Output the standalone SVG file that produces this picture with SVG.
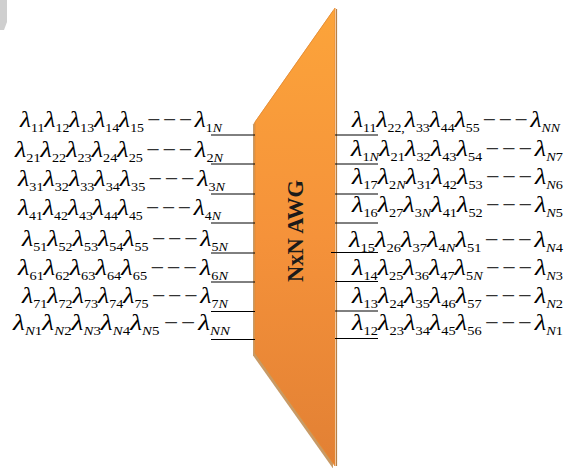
<svg xmlns="http://www.w3.org/2000/svg" width="565" height="468" viewBox="0 0 565 468">
<defs>
<linearGradient id="og" x1="0" y1="0" x2="0" y2="1">
<stop offset="0" stop-color="#FCA43A"/>
<stop offset="0.5" stop-color="#F5923A"/>
<stop offset="1" stop-color="#E28034"/>
</linearGradient>
<filter id="blur" x="-10%" y="-10%" width="120%" height="120%"><feGaussianBlur stdDeviation="0.6"/></filter>
<style>
.row{font-family:"Liberation Serif","Times New Roman",serif;font-size:24px;font-style:italic;fill:#000}
.s{font-size:13px;font-style:normal}
.si{font-size:13px;font-style:italic}
.d{font-style:normal;font-size:22px;letter-spacing:2.5px;fill:#333}
.ln{stroke:#000;stroke-width:1;fill:none}
.title{font-family:"Liberation Serif","Times New Roman",serif;font-size:23px;font-weight:bold;fill:#1a1a1a}
</style>
</defs>
<polygon points="0,0 7,0 7,22 4,30 0,30" fill="#cfcfcf"/>
<g id="awg">
<polygon points="255,122 335,8 335,466 255,353" transform="translate(-2,2.5)" fill="#c89a66" filter="url(#blur)"/>
<line x1="336.5" y1="9" x2="336.5" y2="466" stroke="#b58048" stroke-width="1.2"/>
<polygon points="255,122 335,8 335,466 255,353" fill="url(#og)" stroke="#e88b30" stroke-width="0.8"/>
<text class="title" transform="translate(303,231) rotate(-90)" text-anchor="middle" textLength="102" lengthAdjust="spacingAndGlyphs">NxN AWG</text>
</g>
<g id="connectors">
<line class="ln" x1="211" y1="135" x2="255" y2="135"/>
<line class="ln" x1="211" y1="164" x2="255" y2="164"/>
<line class="ln" x1="211" y1="194" x2="255" y2="194"/>
<line class="ln" x1="211" y1="223" x2="255" y2="223"/>
<line class="ln" x1="211" y1="253" x2="255" y2="253"/>
<line class="ln" x1="211" y1="282" x2="255" y2="282"/>
<line class="ln" x1="211" y1="311.5" x2="255" y2="311.5"/>
<line class="ln" x1="211" y1="339.5" x2="255" y2="339.5"/>
<line class="ln" x1="335" y1="135" x2="378" y2="135"/>
<line class="ln" x1="335" y1="164" x2="378" y2="164"/>
<line class="ln" x1="335" y1="194" x2="378" y2="194"/>
<line class="ln" x1="335" y1="223" x2="378" y2="223"/>
<line class="ln" x1="331" y1="252.5" x2="378" y2="252.5"/>
<line class="ln" x1="335" y1="281.5" x2="378" y2="281.5"/>
<line class="ln" x1="335" y1="311" x2="378" y2="311"/>
<line class="ln" x1="335" y1="338.5" x2="378" y2="338.5"/>
</g>
<g id="inputs">
<text class="row" x="20" y="127" textLength="202" lengthAdjust="spacingAndGlyphs">λ<tspan class="s" dy="4.5">11</tspan><tspan dy="-4.5">λ</tspan><tspan class="s" dy="4.5">12</tspan><tspan dy="-4.5">λ</tspan><tspan class="s" dy="4.5">13</tspan><tspan dy="-4.5">λ</tspan><tspan class="s" dy="4.5">14</tspan><tspan dy="-4.5">λ</tspan><tspan class="s" dy="4.5">15</tspan><tspan class="d" dy="-4.5" dx="3">−−−</tspan>λ<tspan class="s" dy="4.5">1</tspan><tspan class="si">N</tspan></text>
<text class="row" x="15" y="157" textLength="208" lengthAdjust="spacingAndGlyphs">λ<tspan class="s" dy="4.5">21</tspan><tspan dy="-4.5">λ</tspan><tspan class="s" dy="4.5">22</tspan><tspan dy="-4.5">λ</tspan><tspan class="s" dy="4.5">23</tspan><tspan dy="-4.5">λ</tspan><tspan class="s" dy="4.5">24</tspan><tspan dy="-4.5">λ</tspan><tspan class="s" dy="4.5">25</tspan><tspan class="d" dy="-4.5" dx="3">−−−</tspan>λ<tspan class="s" dy="4.5">2</tspan><tspan class="si">N</tspan></text>
<text class="row" x="18" y="186" textLength="207" lengthAdjust="spacingAndGlyphs">λ<tspan class="s" dy="4.5">31</tspan><tspan dy="-4.5">λ</tspan><tspan class="s" dy="4.5">32</tspan><tspan dy="-4.5">λ</tspan><tspan class="s" dy="4.5">33</tspan><tspan dy="-4.5">λ</tspan><tspan class="s" dy="4.5">34</tspan><tspan dy="-4.5">λ</tspan><tspan class="s" dy="4.5">35</tspan><tspan class="d" dy="-4.5" dx="3">−−−</tspan>λ<tspan class="s" dy="4.5">3</tspan><tspan class="si">N</tspan></text>
<text class="row" x="18" y="215" textLength="203" lengthAdjust="spacingAndGlyphs">λ<tspan class="s" dy="4.5">41</tspan><tspan dy="-4.5">λ</tspan><tspan class="s" dy="4.5">42</tspan><tspan dy="-4.5">λ</tspan><tspan class="s" dy="4.5">43</tspan><tspan dy="-4.5">λ</tspan><tspan class="s" dy="4.5">44</tspan><tspan dy="-4.5">λ</tspan><tspan class="s" dy="4.5">45</tspan><tspan class="d" dy="-4.5" dx="3">−−−</tspan>λ<tspan class="s" dy="4.5">4</tspan><tspan class="si">N</tspan></text>
<text class="row" x="22" y="246" textLength="206" lengthAdjust="spacingAndGlyphs">λ<tspan class="s" dy="4.5">51</tspan><tspan dy="-4.5">λ</tspan><tspan class="s" dy="4.5">52</tspan><tspan dy="-4.5">λ</tspan><tspan class="s" dy="4.5">53</tspan><tspan dy="-4.5">λ</tspan><tspan class="s" dy="4.5">54</tspan><tspan dy="-4.5">λ</tspan><tspan class="s" dy="4.5">55</tspan><tspan class="d" dy="-4.5" dx="3">−−−</tspan>λ<tspan class="s" dy="4.5">5</tspan><tspan class="si">N</tspan></text>
<text class="row" x="18" y="275" textLength="210" lengthAdjust="spacingAndGlyphs">λ<tspan class="s" dy="4.5">61</tspan><tspan dy="-4.5">λ</tspan><tspan class="s" dy="4.5">62</tspan><tspan dy="-4.5">λ</tspan><tspan class="s" dy="4.5">63</tspan><tspan dy="-4.5">λ</tspan><tspan class="s" dy="4.5">64</tspan><tspan dy="-4.5">λ</tspan><tspan class="s" dy="4.5">65</tspan><tspan class="d" dy="-4.5" dx="3">−−−</tspan>λ<tspan class="s" dy="4.5">6</tspan><tspan class="si">N</tspan></text>
<text class="row" x="22" y="303" textLength="206" lengthAdjust="spacingAndGlyphs">λ<tspan class="s" dy="4.5">71</tspan><tspan dy="-4.5">λ</tspan><tspan class="s" dy="4.5">72</tspan><tspan dy="-4.5">λ</tspan><tspan class="s" dy="4.5">73</tspan><tspan dy="-4.5">λ</tspan><tspan class="s" dy="4.5">74</tspan><tspan dy="-4.5">λ</tspan><tspan class="s" dy="4.5">75</tspan><tspan class="d" dy="-4.5" dx="3">−−−</tspan>λ<tspan class="s" dy="4.5">7</tspan><tspan class="si">N</tspan></text>
<text class="row" x="13" y="330" textLength="217" lengthAdjust="spacingAndGlyphs">λ<tspan class="si" dy="4.5">N</tspan><tspan class="s">1</tspan><tspan dy="-4.5">λ</tspan><tspan class="si" dy="4.5">N</tspan><tspan class="s">2</tspan><tspan dy="-4.5">λ</tspan><tspan class="si" dy="4.5">N</tspan><tspan class="s">3</tspan><tspan dy="-4.5">λ</tspan><tspan class="si" dy="4.5">N</tspan><tspan class="s">4</tspan><tspan dy="-4.5">λ</tspan><tspan class="si" dy="4.5">N</tspan><tspan class="s">5</tspan><tspan class="d" dy="-4.5" dx="4">−−</tspan>λ<tspan class="si" dy="4.5">NN</tspan></text>
</g>
<g id="outputs">
<text class="row" x="352" y="127" textLength="208" lengthAdjust="spacingAndGlyphs">λ<tspan class="s" dy="4.5">11</tspan><tspan dy="-4.5">λ</tspan><tspan class="s" dy="4.5">22,</tspan><tspan dy="-4.5">λ</tspan><tspan class="s" dy="4.5">33</tspan><tspan dy="-4.5">λ</tspan><tspan class="s" dy="4.5">44</tspan><tspan dy="-4.5">λ</tspan><tspan class="s" dy="4.5">55</tspan><tspan class="d" dy="-4.5" dx="3">−−−</tspan>λ<tspan class="si" dy="4.5">NN</tspan></text>
<text class="row" x="351" y="156" textLength="212" lengthAdjust="spacingAndGlyphs">λ<tspan class="s" dy="4.5">1</tspan><tspan class="si">N</tspan><tspan dy="-4.5">λ</tspan><tspan class="s" dy="4.5">21</tspan><tspan dy="-4.5">λ</tspan><tspan class="s" dy="4.5">32</tspan><tspan dy="-4.5">λ</tspan><tspan class="s" dy="4.5">43</tspan><tspan dy="-4.5">λ</tspan><tspan class="s" dy="4.5">54</tspan><tspan class="d" dy="-4.5" dx="3">−−−</tspan>λ<tspan class="si" dy="4.5">N</tspan><tspan class="s">7</tspan></text>
<text class="row" x="352" y="184" textLength="211" lengthAdjust="spacingAndGlyphs">λ<tspan class="s" dy="4.5">17</tspan><tspan dy="-4.5">λ</tspan><tspan class="s" dy="4.5">2</tspan><tspan class="si">N</tspan><tspan dy="-4.5">λ</tspan><tspan class="s" dy="4.5">31</tspan><tspan dy="-4.5">λ</tspan><tspan class="s" dy="4.5">42</tspan><tspan dy="-4.5">λ</tspan><tspan class="s" dy="4.5">53</tspan><tspan class="d" dy="-4.5" dx="3">−−−</tspan>λ<tspan class="si" dy="4.5">N</tspan><tspan class="s">6</tspan></text>
<text class="row" x="352" y="212" textLength="211" lengthAdjust="spacingAndGlyphs">λ<tspan class="s" dy="4.5">16</tspan><tspan dy="-4.5">λ</tspan><tspan class="s" dy="4.5">27</tspan><tspan dy="-4.5">λ</tspan><tspan class="s" dy="4.5">3</tspan><tspan class="si">N</tspan><tspan dy="-4.5">λ</tspan><tspan class="s" dy="4.5">41</tspan><tspan dy="-4.5">λ</tspan><tspan class="s" dy="4.5">52</tspan><tspan class="d" dy="-4.5" dx="3">−−−</tspan>λ<tspan class="si" dy="4.5">N</tspan><tspan class="s">5</tspan></text>
<text class="row" x="349" y="247" textLength="214" lengthAdjust="spacingAndGlyphs">λ<tspan class="s" dy="4.5">15</tspan><tspan dy="-4.5">λ</tspan><tspan class="s" dy="4.5">26</tspan><tspan dy="-4.5">λ</tspan><tspan class="s" dy="4.5">37</tspan><tspan dy="-4.5">λ</tspan><tspan class="s" dy="4.5">4</tspan><tspan class="si">N</tspan><tspan dy="-4.5">λ</tspan><tspan class="s" dy="4.5">51</tspan><tspan class="d" dy="-4.5" dx="3">−−−</tspan>λ<tspan class="si" dy="4.5">N</tspan><tspan class="s">4</tspan></text>
<text class="row" x="352" y="275" textLength="211" lengthAdjust="spacingAndGlyphs">λ<tspan class="s" dy="4.5">14</tspan><tspan dy="-4.5">λ</tspan><tspan class="s" dy="4.5">25</tspan><tspan dy="-4.5">λ</tspan><tspan class="s" dy="4.5">36</tspan><tspan dy="-4.5">λ</tspan><tspan class="s" dy="4.5">47</tspan><tspan dy="-4.5">λ</tspan><tspan class="s" dy="4.5">5</tspan><tspan class="si">N</tspan><tspan class="d" dy="-4.5" dx="3">−−−</tspan>λ<tspan class="si" dy="4.5">N</tspan><tspan class="s">3</tspan></text>
<text class="row" x="352" y="303" textLength="211" lengthAdjust="spacingAndGlyphs">λ<tspan class="s" dy="4.5">13</tspan><tspan dy="-4.5">λ</tspan><tspan class="s" dy="4.5">24</tspan><tspan dy="-4.5">λ</tspan><tspan class="s" dy="4.5">35</tspan><tspan dy="-4.5">λ</tspan><tspan class="s" dy="4.5">46</tspan><tspan dy="-4.5">λ</tspan><tspan class="s" dy="4.5">57</tspan><tspan class="d" dy="-4.5" dx="3">−−−</tspan>λ<tspan class="si" dy="4.5">N</tspan><tspan class="s">2</tspan></text>
<text class="row" x="352" y="330" textLength="211" lengthAdjust="spacingAndGlyphs">λ<tspan class="s" dy="4.5">12</tspan><tspan dy="-4.5">λ</tspan><tspan class="s" dy="4.5">23</tspan><tspan dy="-4.5">λ</tspan><tspan class="s" dy="4.5">34</tspan><tspan dy="-4.5">λ</tspan><tspan class="s" dy="4.5">45</tspan><tspan dy="-4.5">λ</tspan><tspan class="s" dy="4.5">56</tspan><tspan class="d" dy="-4.5" dx="3">−−−</tspan>λ<tspan class="si" dy="4.5">N</tspan><tspan class="s">1</tspan></text>
</g>
</svg>
